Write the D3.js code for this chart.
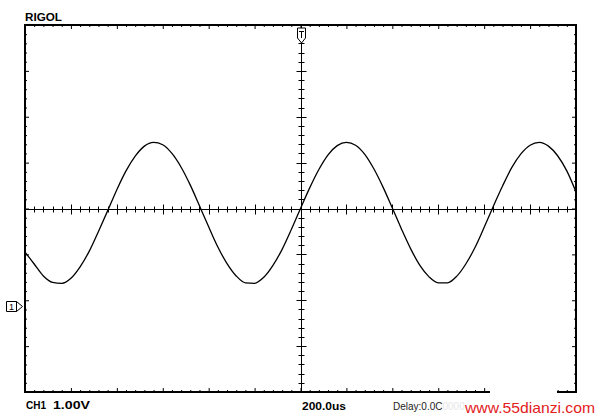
<!DOCTYPE html>
<html>
<head>
<meta charset="utf-8">
<script src="https://cdn.jsdelivr.net/npm/d3@7"></script>
<style>
  html, body { margin: 0; padding: 0; background: #fff; }
  svg { display: block; }
  text { font-family: "Liberation Sans", Arial, sans-serif; }
</style>
</head>
<body>
<svg id="chart" width="600" height="420"></svg>
<script>
// ---- data ----
const brand = "RIGOL";
const channelLabel = "CH1";
const voltsPerDiv = "1.00V";
const timePerDiv = "200.0us";
const delayLabel = "Delay:0.0C";
const watermark = "www.55dianzi.com";
const timeDomain = [-1200, 1200];   // us, 12 divisions of 200us
const voltDomain = [-4, 4];         // V, 8 divisions of 1V
const groundLevel = -2.12;          // channel 1 marker position (V)
const timeUs = [-1200,-1160,-1120,-1080,-1040,-1000,-960,-920,-880,-840,-800,-760,-720,-680,-640,-600,-560,-520,-480,-440,-400,-360,-320,-280,-240,-200,-160,-120,-80,-40,0,40,80,120,160,200,240,280,320,360,400,440,480,520,560,600,640,680,720,760,800,840,880,920,960,1000,1040,1080,1120,1160,1200];
const ch1Volts = [-0.95,-1.21,-1.47,-1.61,-1.63,-1.52,-1.27,-0.93,-0.50,-0.05,0.41,0.82,1.14,1.36,1.44,1.39,1.20,0.90,0.51,0.06,-0.40,-0.84,-1.20,-1.47,-1.62,-1.63,-1.50,-1.24,-0.89,-0.46,0.00,0.45,0.85,1.17,1.37,1.44,1.38,1.18,0.86,0.46,0.01,-0.45,-0.88,-1.24,-1.49,-1.62,-1.62,-1.48,-1.21,-0.85,-0.41,0.05,0.49,0.89,1.19,1.38,1.44,1.36,1.15,0.82,0.36];

// ---- layout ----
const svg = d3.select("#chart");
const L = 25, R = 576, T = 25, B = 392;
const x = d3.scaleLinear().domain(timeDomain).range([L, R]);
const y = d3.scaleLinear().domain(voltDomain).range([B, T]);
const cx = x(0), cy = y(0);

const minorT = d3.range(timeDomain[0], timeDomain[1] + 1, 40);
const majorT = d3.range(timeDomain[0], timeDomain[1] + 1, 200);
const minorV = d3.range(voltDomain[0], voltDomain[1] + 0.001, 0.2).map(v => +v.toFixed(2));
const majorV = d3.range(voltDomain[0], voltDomain[1] + 0.001, 1);

const isMajorT = t => Math.abs(t % 200) < 1e-6;
const isMajorV = v => Math.abs(v - Math.round(v)) < 1e-6;

function borderAxis(axisFn, scale, values, size, transform) {
  const g = svg.append("g").attr("transform", transform)
    .call(axisFn(scale).tickValues(values).tickSize(size).tickFormat(""));
  g.select(".domain").remove();
  g.selectAll(".tick line").attr("stroke", "#000").attr("stroke-width", 1);
  return g;
}
// border ticks pointing inward
borderAxis(d3.axisBottom, x, minorT.filter(t => !isMajorT(t)), 2, `translate(0,${T})`);
borderAxis(d3.axisBottom, x, majorT, 4, `translate(0,${T})`);
borderAxis(d3.axisTop, x, minorT.filter(t => !isMajorT(t)), 2, `translate(0,${B})`);
borderAxis(d3.axisTop, x, majorT, 4, `translate(0,${B})`);
borderAxis(d3.axisRight, y, minorV.filter(v => !isMajorV(v)), 2, `translate(${L},0)`);
borderAxis(d3.axisRight, y, majorV, 4, `translate(${L},0)`);
borderAxis(d3.axisLeft, y, minorV.filter(v => !isMajorV(v)), 2, `translate(${R},0)`);
borderAxis(d3.axisLeft, y, majorV, 4, `translate(${R},0)`);

// center crosshair
svg.append("line").attr("x1", L).attr("x2", R).attr("y1", Math.round(cy) + 0.5).attr("y2", Math.round(cy) + 0.5)
  .attr("stroke", "#000").attr("stroke-width", 1);
svg.append("line").attr("y1", T).attr("y2", B).attr("x1", Math.round(cx) + 0.5).attr("x2", Math.round(cx) + 0.5)
  .attr("stroke", "#000").attr("stroke-width", 1);
svg.append("g").selectAll("line").data(minorT).join("line")
  .attr("x1", d => Math.round(x(d)) + 0.5).attr("x2", d => Math.round(x(d)) + 0.5)
  .attr("y1", d => Math.round(cy) + 0.5 - (isMajorT(d) ? 5 : 3))
  .attr("y2", d => Math.round(cy) + 0.5 + (isMajorT(d) ? 5 : 3))
  .attr("stroke", "#000");
svg.append("g").selectAll("line").data(minorV).join("line")
  .attr("y1", d => Math.round(y(d)) + 0.5).attr("y2", d => Math.round(y(d)) + 0.5)
  .attr("x1", d => Math.round(cx) + 0.5 - (isMajorV(d) ? 5 : 3))
  .attr("x2", d => Math.round(cx) + 0.5 + (isMajorV(d) ? 5 : 3))
  .attr("stroke", "#000");

// waveform
const pts = timeUs.map((t, i) => [t, ch1Volts[i]]);
svg.append("path").datum(pts)
  .attr("d", d3.line().x(d => x(d[0])).y(d => y(d[1])).curve(d3.curveMonotoneX))
  .attr("fill", "none").attr("stroke", "#000").attr("stroke-width", 1.3);

// frame
svg.append("rect").attr("x", L).attr("y", T).attr("width", R - L).attr("height", B - T)
  .attr("fill", "none").attr("stroke", "#000").attr("stroke-width", 2);

// trigger marker (top)
const tx = Math.round(cx) + 0.5;
svg.append("path")
  .attr("d", `M${tx - 4},${T + 3} L${tx + 4},${T + 3} L${tx + 4},${T + 13} L${tx},${T + 18} L${tx - 4},${T + 13} Z`)
  .attr("fill", "#fff").attr("stroke", "#000").attr("stroke-width", 1);
svg.append("path")
  .attr("d", `M${tx - 2.5},${T + 6.5} L${tx + 2.5},${T + 6.5} M${tx},${T + 6.5} L${tx},${T + 13}`)
  .attr("stroke", "#000").attr("stroke-width", 1);

// channel 1 ground marker (left)
const gy = Math.round(y(groundLevel)) + 0.5;
svg.append("path")
  .attr("d", `M6.5,${gy - 5} L16.5,${gy - 5} L22.5,${gy} L16.5,${gy + 5} L6.5,${gy + 5} Z M16.5,${gy - 5} L16.5,${gy + 5}`)
  .attr("fill", "#fff").attr("stroke", "#000").attr("stroke-width", 1);
svg.append("text").attr("x", 11.5).attr("y", gy + 3.5).attr("text-anchor", "middle")
  .attr("font-size", 9).attr("fill", "#000").text("1");

// labels
svg.append("text").attr("x", 25).attr("y", 21).attr("font-size", 11).attr("font-weight", "bold")
  .attr("textLength", 37).attr("lengthAdjust", "spacingAndGlyphs").text(brand);
svg.append("text").attr("x", 26).attr("y", 408.5).attr("font-size", 10).attr("font-weight", "bold")
  .text(channelLabel);
svg.append("text").attr("x", 53).attr("y", 408.5).attr("font-size", 10).attr("font-weight", "bold")
  .attr("textLength", 37).attr("lengthAdjust", "spacingAndGlyphs").text(voltsPerDiv);
svg.append("text").attr("x", 302).attr("y", 410).attr("font-size", 10).attr("font-weight", "bold")
  .attr("textLength", 44).attr("lengthAdjust", "spacingAndGlyphs").text(timePerDiv);
svg.append("text").attr("x", 393).attr("y", 410).attr("font-size", 10)
  .attr("fill", "#222").text(delayLabel)
  .append("tspan").attr("fill", "#e6e6e6").text("0000");

// watermark with white patch over the frame
svg.append("rect").attr("x", 490).attr("y", 384).attr("width", 67).attr("height", 12).attr("fill", "#fff");
svg.append("text").attr("x", 465).attr("y", 413).attr("font-size", 15).attr("fill", "#e3201c")
  .attr("textLength", 130).attr("lengthAdjust", "spacingAndGlyphs").text(watermark);
</script>
</body>
</html>
